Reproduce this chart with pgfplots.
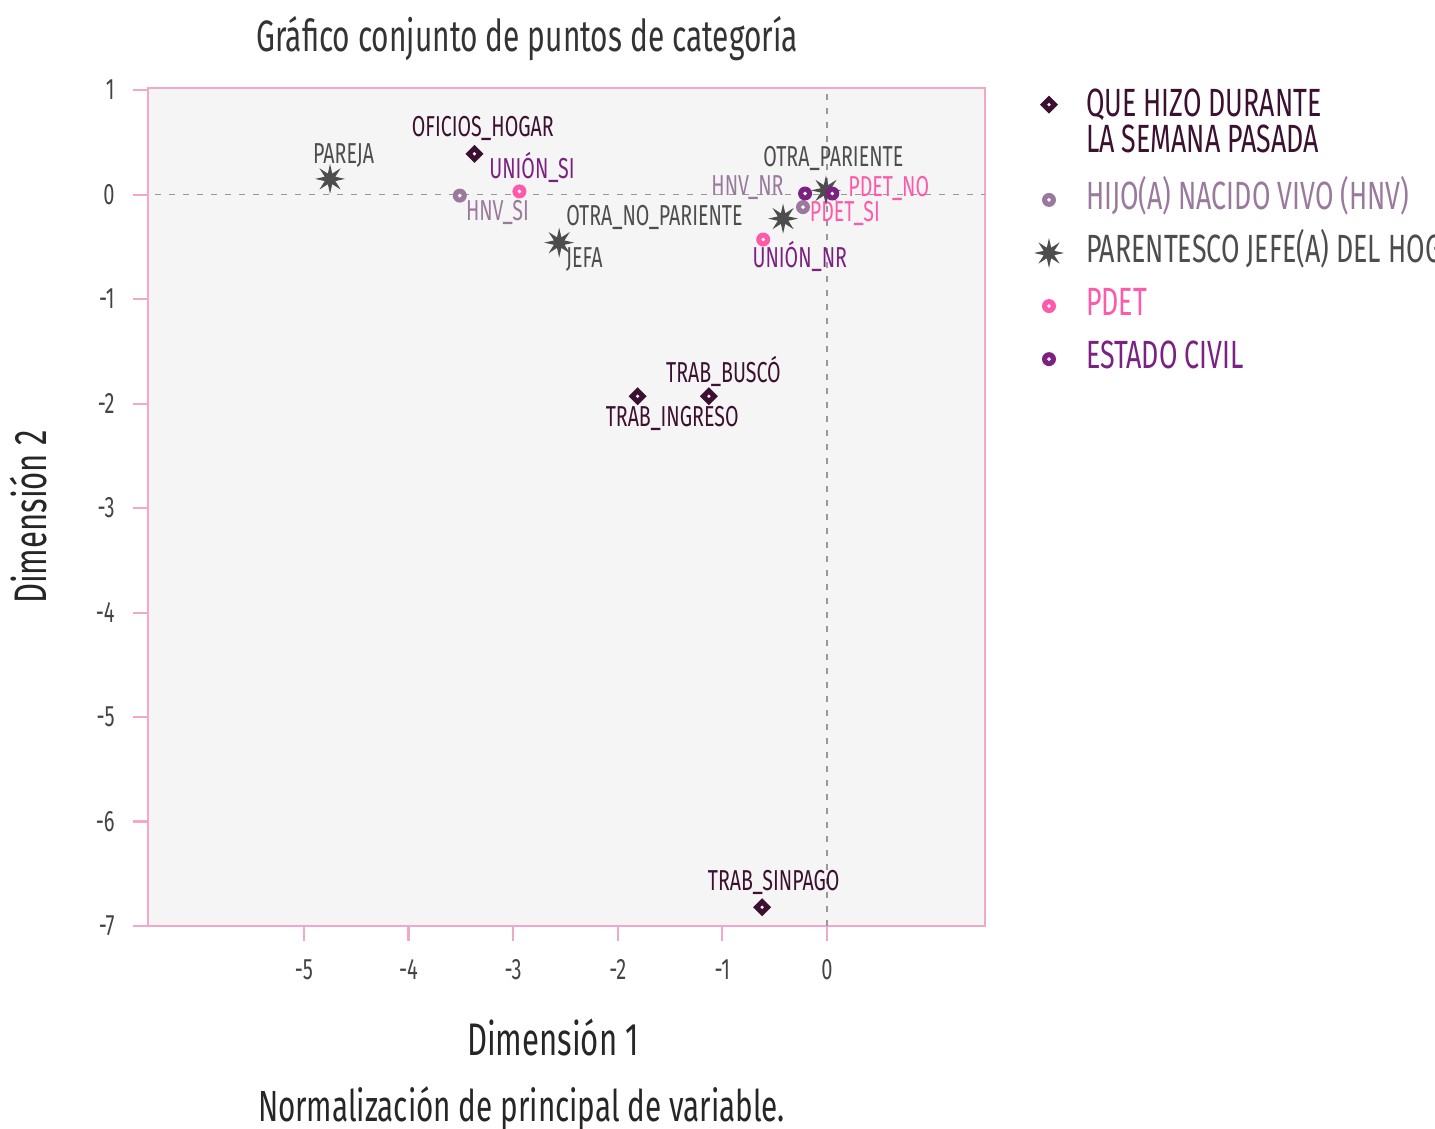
\documentclass[border=0pt]{standalone}
\usepackage{pgfplots}
\pgfplotsset{compat=1.18}
\usepackage{fontspec}
\setmainfont{Fira Sans}[FakeStretch=0.68]
\definecolor{dia}{HTML}{3C1030}
\definecolor{hnv}{HTML}{9A7A9C}
\definecolor{stc}{HTML}{4D4D4D}
\definecolor{pdet}{HTML}{FF5AAA}
\definecolor{civ}{HTML}{7B2182}
\definecolor{frame}{HTML}{F4A8C8}
\definecolor{bgc}{HTML}{F5F5F5}
\definecolor{tick}{HTML}{444444}

\pgfdeclareplotmark{diadot}{%
  \pgfpathmoveto{\pgfqpoint{0pt}{\pgfplotmarksize}}%
  \pgfpathlineto{\pgfqpoint{\pgfplotmarksize}{0pt}}%
  \pgfpathlineto{\pgfqpoint{0pt}{-\pgfplotmarksize}}%
  \pgfpathlineto{\pgfqpoint{-\pgfplotmarksize}{0pt}}%
  \pgfpathclose\pgfusepathqfill
  \pgfscope\pgfsetfillcolor{white}%
  \pgfpathcircle{\pgfpointorigin}{0.2\pgfplotmarksize}\pgfusepathqfill
  \endpgfscope}
\pgfdeclareplotmark{circdot}{%
  \pgfpathcircle{\pgfpointorigin}{\pgfplotmarksize}\pgfusepathqfill
  \pgfscope\pgfsetfillcolor{white}%
  \pgfpathcircle{\pgfpointorigin}{0.28\pgfplotmarksize}\pgfusepathqfill
  \endpgfscope}
\pgfdeclareplotmark{star8}{%
  \pgfpathmoveto{\pgfpointpolar{0}{\pgfplotmarksize}}%
  \pgfpathlineto{\pgfpointpolar{22.5}{0.38\pgfplotmarksize}}%
  \pgfpathlineto{\pgfpointpolar{45}{\pgfplotmarksize}}%
  \pgfpathlineto{\pgfpointpolar{67.5}{0.38\pgfplotmarksize}}%
  \pgfpathlineto{\pgfpointpolar{90}{\pgfplotmarksize}}%
  \pgfpathlineto{\pgfpointpolar{112.5}{0.38\pgfplotmarksize}}%
  \pgfpathlineto{\pgfpointpolar{135}{\pgfplotmarksize}}%
  \pgfpathlineto{\pgfpointpolar{157.5}{0.38\pgfplotmarksize}}%
  \pgfpathlineto{\pgfpointpolar{180}{\pgfplotmarksize}}%
  \pgfpathlineto{\pgfpointpolar{202.5}{0.38\pgfplotmarksize}}%
  \pgfpathlineto{\pgfpointpolar{225}{\pgfplotmarksize}}%
  \pgfpathlineto{\pgfpointpolar{247.5}{0.38\pgfplotmarksize}}%
  \pgfpathlineto{\pgfpointpolar{270}{\pgfplotmarksize}}%
  \pgfpathlineto{\pgfpointpolar{292.5}{0.38\pgfplotmarksize}}%
  \pgfpathlineto{\pgfpointpolar{315}{\pgfplotmarksize}}%
  \pgfpathlineto{\pgfpointpolar{337.5}{0.38\pgfplotmarksize}}%
  \pgfpathclose\pgfusepathqfill}

\begin{document}
\begin{tikzpicture}
\begin{axis}[
  width=83.7mm, height=83.8mm, scale only axis,
  xmin=-6.49, xmax=1.51, ymin=-7, ymax=1.02,
  xtick={-5,-4,-3,-2,-1,0}, ytick={-7,-6,-5,-4,-3,-2,-1,0,1},
  xtick pos=bottom, ytick pos=left,
  tick align=outside, major tick length=1.5mm,
  tick style={frame, line width=0.6pt},
  axis line style={frame, line width=0.6pt},
  axis background/.style={fill=bgc},
  /pgf/number format/assume math mode=true,
  ticklabel style={font=\fontsize{8.4}{9}\selectfont, text=tick},
  xticklabel style={yshift=-0.6mm},
  yticklabel style={xshift=-0.6mm},
  clip=false,
  every axis title shift=0pt,
  title={Gráfico conjunto de puntos de categoría},
  title style={at={(0.453,1)}, anchor=base, yshift=3.6mm, font=\fontsize{12.5}{14}\selectfont, text=black!80},
  xlabel={Dimensión 1},
  xlabel style={at={(0.484,0)}, anchor=base, yshift=-12.9mm, font=\fontsize{13}{15}\selectfont, text=black!85},
  ylabel={Dimensión 2},
  ylabel style={at={(-0.1207,0.488)}, anchor=base, font=\fontsize{13}{15}\selectfont, text=black!85},
  legend style={at={(1.0585,1.0)}, anchor=north west, draw=none, fill=none,
    inner sep=0pt, outer sep=0pt, row sep=4.6pt, column sep=2.2mm,
    font=\fontsize{11.2}{10.4}\selectfont,
    nodes={inner sep=0pt, text height=8pt, text depth=2.5pt}},
  legend cell align=left,
]
\addplot[forget plot, color=gray!80, dash pattern=on 0.6mm off 0.8mm, line width=0.5pt] coordinates {(-6.42,0) (1.51,0)};
\addplot[forget plot, color=gray!80, dash pattern=on 0.6mm off 0.8mm, line width=0.5pt] coordinates {(0,-7) (0,1.02)};

\addplot[only marks, color=dia, mark=diadot, mark size=0.9mm, legend image post style={yshift=2.2mm}] coordinates {
  (-3.37,0.39) (-1.81,-1.93) (-1.13,-1.93) (-0.62,-6.82)};
\addlegendentry[text depth=14pt]{\parbox[t]{5cm}{\leavevmode\color{dia}QUE HIZO DURANTE\\LA SEMANA PASADA}}
\addplot[only marks, color=hnv, mark=circdot, mark size=0.7mm] coordinates {
  (-3.51,-0.01) (-0.23,-0.12)};
\addlegendentry{\textcolor{hnv}{HIJO(A) NACIDO VIVO (HNV)}}
\addplot[only marks, color=stc, mark=star8, mark size=1.5mm] coordinates {
  (-4.75,0.15) (-2.56,-0.46) (-0.42,-0.23) (-0.01,0.04)};
\addlegendentry{\textcolor{stc}{PARENTESCO JEFE(A) DEL HOGAR}}
\addplot[only marks, color=pdet, mark=circdot, mark size=0.7mm] coordinates {
  (-2.94,0.03) (-0.61,-0.43)};
\addlegendentry{\textcolor{pdet}{PDET}}
\addplot[only marks, color=civ, mark=circdot, mark size=0.7mm] coordinates {
  (-0.21,0.01) (0.05,0.01)};
\addlegendentry{\textcolor{civ}{ESTADO CIVIL}}

\begin{scope}[every node/.style={font=\fontsize{8.2}{9}\selectfont, inner sep=0pt}]
\node[text=dia] at (axis cs:-3.29,0.63) {OFICIOS\_HOGAR};
\node[text=stc] at (axis cs:-4.62,0.37) {PAREJA};
\node[text=civ] at (axis cs:-2.82,0.26) {UNIÓN\_SI};
\node[text=hnv] at (axis cs:-3.15,-0.17) {HNV\_SI};
\node[text=stc] at (axis cs:-1.65,-0.22) {OTRA\_NO\_PARIENTE};
\node[text=stc] at (axis cs:-2.32,-0.62) {JEFA};
\node[text=stc] at (axis cs:0.06,0.35) {OTRA\_PARIENTE};
\node[text=hnv] at (axis cs:-0.76,0.07) {HNV\_NR};
\node[text=pdet] at (axis cs:0.59,0.06) {PDET\_NO};
\node[text=pdet] at (axis cs:0.17,-0.18) {PDET\_SI};
\node[text=civ] at (axis cs:-0.26,-0.59) {UNIÓN\_NR};
\node[text=dia] at (axis cs:-0.99,-1.69) {TRAB\_BUSCÓ};
\node[text=dia] at (axis cs:-1.48,-2.14) {TRAB\_INGRESO};
\node[text=dia] at (axis cs:-0.51,-6.58) {TRAB\_SINPAGO};
\end{scope}
\node[anchor=base, yshift=-19.5mm, font=\fontsize{12.4}{15}\selectfont, text=black!85] at (rel axis cs:0.446,0) {Normalización de principal de variable.};
\coordinate (BBa) at (rel axis cs:-0.1768,-0.2411);
\coordinate (BBb) at (rel axis cs:1.5376,1.105);
\end{axis}
\pgfresetboundingbox
\path[use as bounding box] (BBa) rectangle (BBb);
\end{tikzpicture}
\end{document}
